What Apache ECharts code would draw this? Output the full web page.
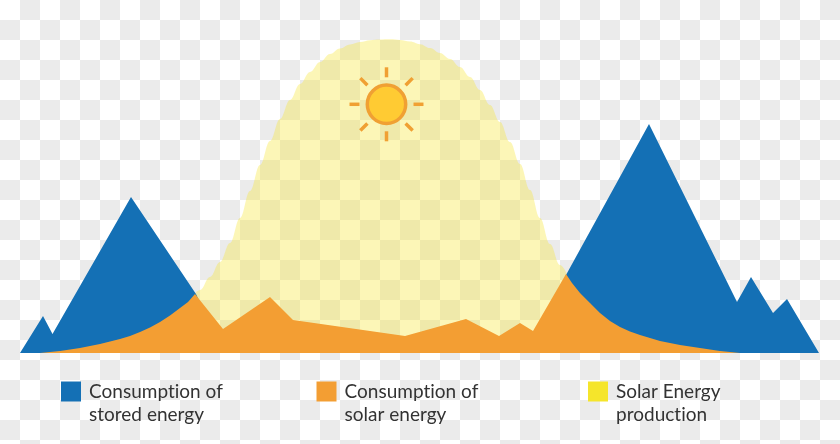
<!DOCTYPE html>
<html><head><meta charset="utf-8">
<style>
html,body{margin:0;padding:0;width:840px;height:444px;overflow:hidden}
body{background-color:#fff;background-image:conic-gradient(#ebebeb 25%,#fff 0 50%,#ebebeb 0 75%,#fff 0);background-size:40px 40px}
#c{width:840px;height:444px}
</style>
<script src="https://cdn.jsdelivr.net/npm/echarts@6/dist/echarts.min.js"></script>
</head><body><div id="c"></div>
<script>
const seriesNames = ['Consumption of\nstored energy','Consumption of\nsolar energy','Solar Energy\nproduction'];
const storedEnergy = [[20,0],[43,37],[52.5,19],[131,156],[196,59],[224,0],[540,0],[566,78],[649,229],[737,51],[751,76],[773,40],[787,54],[819,0]];
const solarConsumption = [[40,0],[50,1],[60,2],[70,3.5],[80,5],[90,7],[100,9],[110,11.5],[120,14],[130,17],[140,21],[150,25.5],[160,31],[170,37.5],[180,45],[188,51],[195,59],[223,24],[270,56],[293,33],[405,17],[466,34],[499,17],[520,30],[533,22],[566,79],[572,70],[580,60],[590,50],[600,40],[610,32],[620,26],[630,21.5],[640,18],[650,15],[660,12],[670,10],[680,8],[700,5],[720,2],[740,0]];
const solarProduction = [[190,53],[200,63],[210,76],[220,91],[230,110],[240,135],[250,162],[260,188],[270,212],[280,234],[290,253],[300,269],[310,281],[320,291],[330,299],[340,304.5],[350,308.5],[360,311],[370,312.8],[380,313.5],[390,313.7],[400,313],[410,311.5],[420,308.8],[430,305],[440,300],[450,294],[460,286],[470,276],[480,263],[490,248],[500,231],[510,211],[520,189],[530,163],[540,135],[550,109],[560,88],[570,72]];
const sunPosition = [[386.5,248.7]];
const colors = {stored:'#1470b5',solar:'#f39e33',prod:'#f5e52b'};

// Keep the letters of "ti" apart, as in the reference, by turning off canvas ligatures.
const nativeGetContext = HTMLCanvasElement.prototype.getContext;
HTMLCanvasElement.prototype.getContext = function(type,opts){
  const ctx = nativeGetContext.call(this,type,opts);
  if(type==='2d' && ctx && 'letterSpacing' in ctx){ ctx.letterSpacing='0.01px'; }
  return ctx;
};

function areaSeries(name,data,color,opacity,smooth){
  return {type:'line',name,data,smooth,smoothMonotone:'x',showSymbol:false,symbol:'none',silent:true,
    lineStyle:{width:0},itemStyle:{color},areaStyle:{color,opacity},animation:false};
}
function legendAt(left,name,color){
  return {left,top:357,orient:'horizontal',padding:0,itemWidth:20,itemHeight:20,itemGap:0,icon:'rect',selectedMode:false,
    formatter:n=>'\n'+n,
    data:[{name,icon:'rect',itemStyle:{color,opacity:1}}],
    textStyle:{fontFamily:'Lato',fontSize:19,color:'#333',lineHeight:23,padding:[0,0,0,3]}};
}
function renderSun(params,api){
  const p = api.coord([api.value(0),api.value(1)]);
  const rays=[];
  for(let i=0;i<8;i++){
    const a=i*Math.PI/4, c=Math.cos(a), s=Math.sin(a);
    rays.push({type:'line',shape:{x1:p[0]+c*27,y1:p[1]+s*27,x2:p[0]+c*37,y2:p[1]+s*37},style:{stroke:'#f0a033',lineWidth:3.5}});
  }
  return {type:'group',children:[...rays,{type:'circle',shape:{cx:p[0],cy:p[1],r:19.2},style:{fill:'#ffcb33',stroke:'#f0a033',lineWidth:3.5}}]};
}
const chart = echarts.init(document.getElementById('c'),null,{renderer:'canvas'});
chart.setOption({
  backgroundColor:'transparent',animation:false,
  grid:{left:0,right:0,top:0,height:353},
  xAxis:{type:'value',min:0,max:840,show:false},
  yAxis:{type:'value',min:0,max:353,show:false},
  legend:[legendAt(61,seriesNames[0],colors.stored),legendAt(316.5,seriesNames[1],colors.solar),legendAt(588,seriesNames[2],colors.prod)],
  series:[
    areaSeries(seriesNames[2],solarProduction,colors.prod,0.34,0.4),
    {type:'custom',name:'sun',z:5,coordinateSystem:'cartesian2d',data:sunPosition,renderItem:renderSun,silent:true,animation:false},
    areaSeries(seriesNames[0],storedEnergy,colors.stored,1,false),
    areaSeries(seriesNames[1],solarConsumption,colors.solar,1,false)
  ]
});
</script></body></html>
